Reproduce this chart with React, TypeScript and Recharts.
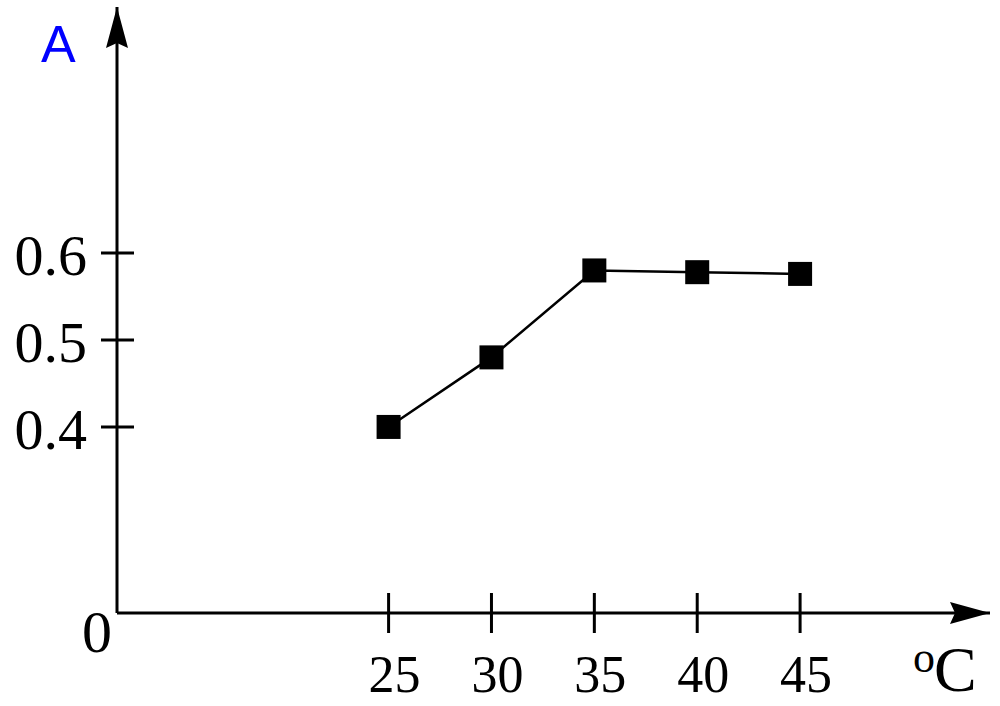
import { Line, LineChart, XAxis, YAxis } from "recharts";

// temperature (°C) and absorbance
const temps = [25, 30, 35, 40, 45];
const absorbance = [0.4, 0.48, 0.58, 0.578, 0.576];
const xTicks = [25, 30, 35, 40, 45];
const yTicks = [0.4, 0.5, 0.6];

const data = temps.map((t, i) => ({ t, a: absorbance[i] }));

const serif = "'Liberation Serif', 'Times New Roman', serif";
const sans = "'Liberation Sans', Arial, sans-serif";

function YTick({ x, y, payload }: any) {
  return (
    <g>
      <line x1={x - 16} x2={x + 17} y1={y} y2={y} stroke="#000" strokeWidth={3} />
      <text x={x - 30} y={y + 22} textAnchor="end" fontFamily={serif} fontSize={58} fill="#000">
        {payload.value}
      </text>
    </g>
  );
}

function XTick({ x, y, payload }: any) {
  return (
    <g>
      <line x1={x} x2={x} y1={y - 20} y2={y + 20} stroke="#000" strokeWidth={3} />
      <text x={x + 6} y={y + 79} textAnchor="middle" fontFamily={serif} fontSize={52} fill="#000">
        {payload.value}
      </text>
    </g>
  );
}

// arrowhead on top of y axis, plus "A" and the origin "0"
function YArrow(props: any) {
  const { x, y, width, height } = props.viewBox;
  const ax = x + width;
  return (
    <g>
      <polygon
        points={`${ax},${y} ${ax + 11},${y + 41} ${ax},${y + 36} ${ax - 11},${y + 41}`}
        fill="#000"
      />
      <text x={41} y={y + 55} fontFamily={sans} fontSize={52} fill="#0000ff">
        A
      </text>
      <text x={ax - 20} y={y + height + 39} textAnchor="middle" fontFamily={serif} fontSize={60} fill="#000">
        0
      </text>
    </g>
  );
}

// arrowhead at end of x axis, plus the unit
function XArrow(props: any) {
  const { x, y, width } = props.viewBox;
  const ex = x + width;
  return (
    <g>
      <polygon
        points={`${ex},${y} ${ex - 40},${y - 11} ${ex - 35},${y} ${ex - 40},${y + 11}`}
        fill="#000"
      />
      <text x={ex - 66} y={y + 59} textAnchor="middle" fontFamily={serif} fontSize={44} fill="#000">
        o
      </text>
      <text x={ex - 56} y={y + 78} fontFamily={serif} fontSize={64} fill="#000">
        C
      </text>
    </g>
  );
}

const Square = (props: any) => {
  const { cx, cy, index } = props;
  return <rect key={index} x={cx - 12} y={cy - 12} width={24} height={24} fill="#000" />;
};

export default function App() {
  return (
    <div style={{ position: "absolute", left: 0, top: 0, background: "#fff" }}>
      <LineChart
        width={1000}
        height={706}
        data={data}
        margin={{ top: 7, right: 10, left: 0, bottom: 0 }}
      >
        <XAxis
          dataKey="t"
          type="number"
          domain={[11.8, 54.23]}
          ticks={xTicks}
          allowDataOverflow
          height={93}
          tickLine={false}
          tickSize={0}
          tickMargin={0}
          axisLine={{ stroke: "#000", strokeWidth: 3 }}
          tick={<XTick />}
          label={XArrow}
        />
        <YAxis
          type="number"
          domain={[0.186, 0.883]}
          ticks={yTicks}
          allowDataOverflow
          width={117}
          tickLine={false}
          tickSize={0}
          tickMargin={0}
          axisLine={{ stroke: "#000", strokeWidth: 3 }}
          tick={<YTick />}
          label={YArrow}
        />
        <Line
          dataKey="a"
          type="linear"
          stroke="#000"
          strokeWidth={2.5}
          dot={Square}
          activeDot={false}
          isAnimationActive={false}
        />
      </LineChart>
    </div>
  );
}
